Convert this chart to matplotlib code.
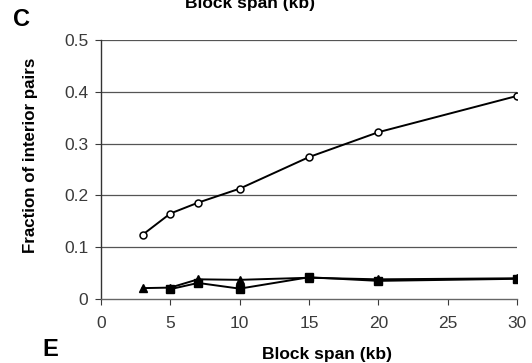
import numpy as np
import matplotlib.pyplot as plt

plt.rcParams['font.family'] = ['Liberation Sans', 'DejaVu Sans']

# datos
span_kb = [3, 5, 7, 10, 15, 20, 30]
open_circ = [0.124, 0.165, 0.186, 0.213, 0.274, 0.322, 0.392]
tri_vals = [0.021, 0.022, 0.038, 0.037, 0.041, 0.038, 0.040]
sq_span = [5, 7, 10, 15, 20, 30]
sq_vals = [0.019, 0.031, 0.020, 0.042, 0.035, 0.039]

yticks = [0, 0.1, 0.2, 0.3, 0.4, 0.5]
ylabels = ['0', '0.1', '0.2', '0.3', '0.4', '0.5']
xticks = [0, 5, 10, 15, 20, 25, 30]

fig = plt.figure(figsize=(5.32, 3.63), dpi=100)
ax = fig.add_axes([0.1898, 0.1763, 0.782, 0.7135])

# lineas de rejilla horizontales
for yv in yticks[1:]:
    ax.axhline(yv, color='#555555', lw=0.9, zorder=1)

ax.plot(span_kb, open_circ, '-o', color='black', lw=1.4, ms=5,
        mfc='white', mec='black', mew=1.1, zorder=3)
ax.plot(span_kb, tri_vals, '-^', color='black', lw=1.4, ms=6, zorder=3)
ax.plot(sq_span, sq_vals, '-s', color='black', lw=1.4, ms=5.5, zorder=3)

ax.set_xlim(0, 30)
ax.set_ylim(0, 0.5)
ax.set_xticks(xticks)
ax.set_yticks(yticks)
ax.set_yticklabels(ylabels)

for s in ['top', 'right']:
    ax.spines[s].set_visible(False)
ax.spines['left'].set_color('#333333')
ax.spines['bottom'].set_color('#666666')
ax.spines['left'].set_linewidth(1.0)
ax.spines['bottom'].set_linewidth(1.0)

ax.tick_params(axis='y', length=4, pad=5, labelsize=12.5, colors='#3a3a3a')
ax.tick_params(axis='x', length=4, pad=8, labelsize=12.5, colors='#3a3a3a')

ax.set_ylabel('Fraction of interior pairs', fontsize=12.2, fontweight='bold')
ax.yaxis.set_label_coords(-0.151, 0.556)
ax.set_xlabel('Block span (kb)', fontsize=12.5, fontweight='bold')
ax.xaxis.set_label_coords(0.543, -0.185)

# letras de panel y texto cortado arriba (tambien cortado en el original)
fig.text(22 / 532, 1 - 19 / 363, 'C', fontsize=17, fontweight='bold',
         ha='center', va='center')
fig.text(50 / 532, 1 - 349 / 363, 'E', fontsize=17, fontweight='bold',
         ha='center', va='center')
fig.text(250 / 532, 1 - 11 / 363, 'Block span (kb)', fontsize=12.5,
         fontweight='bold', ha='center', va='bottom')

fig.savefig('out.png', dpi=100)
